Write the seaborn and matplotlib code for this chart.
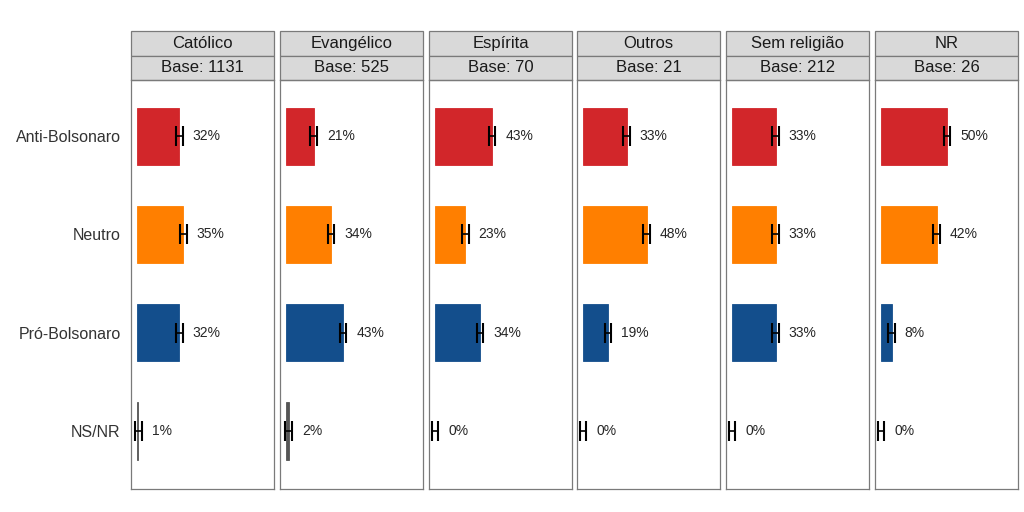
#Imports
import pandas as pd
import matplotlib.pyplot as plt
import seaborn as sns
from matplotlib.patches import Rectangle

#Data
respostas = ["Anti-Bolsonaro", "Neutro", "Pró-Bolsonaro", "NS/NR"]
religioes = ["Católico", "Evangélico", "Espírita", "Outros", "Sem religião", "NR"]
bases = [1131, 525, 70, 21, 212, 26]
catolico = [32, 35, 32, 1]
evangelico = [21, 34, 43, 2]
espirita = [43, 23, 34, 0]
outros = [33, 48, 19, 0]
sem_religiao = [33, 33, 33, 0]
nr = [50, 42, 8, 0]
erro = 2.5

valores = [catolico, evangelico, espirita, outros, sem_religiao, nr]
linhas = []
for rel, vals in zip(religioes, valores):
    for resp, v in zip(respostas, vals):
        linhas.append({"religiao": rel, "resposta": resp, "pct": v})
df = pd.DataFrame(linhas)

cores = {
    "Anti-Bolsonaro": "#d2262a",
    "Neutro": "#ff7f00",
    "Pró-Bolsonaro": "#134e8c",
    "NS/NR": "#555555",
}

sns.set_style("white")
plt.rcParams["font.family"] = ["Liberation Sans", "DejaVu Sans"]

fig = plt.figure(figsize=(10.24, 5.12), dpi=100)
lefts = [131, 280, 429, 577, 726, 875]
W, H = 1024, 512
pan_w = 143
pan_top, pan_bot = 80, 489
strip_h = 24.5

for k, (rel, base) in enumerate(zip(religioes, bases)):
    ax = fig.add_axes([
        lefts[k] / W,
        1 - pan_bot / H,
        pan_w / W,
        (pan_bot - pan_top) / H
    ])
    sub = df[df["religiao"] == rel]
    sns.barplot(
        data=sub, x="pct", y="resposta", hue="resposta",
        order=respostas, hue_order=respostas, palette=cores,
        saturation=1, width=0.58, legend=False, ax=ax, errorbar=None
    )
    # thin outline so the 1-2% bars stay visible
    for p in ax.patches:
        if p.get_width() > 0:
            p.set_edgecolor(p.get_facecolor())
            p.set_linewidth(0.6)
    ax.errorbar(
        sub["pct"], range(len(respostas)), xerr=erro,
        fmt="none", ecolor="black", elinewidth=1.2,
        capsize=7.5, capthick=1.5
    )
    for i, v in enumerate(sub["pct"]):
        ax.text(v + 10, i, f"{v}%", va="center", ha="left", fontsize=10)
    ax.set_xlim(-4.5, 103.5)
    ax.set_ylim(3.59, -0.57)
    ax.set_xticks([])
    ax.set_xlabel("")
    ax.set_ylabel("")
    ax.tick_params(left=False, pad=4)
    if k == 0:
        ax.set_yticks(range(len(respostas)))
        ax.set_yticklabels(respostas, fontsize=11.5, color="#333333")
    else:
        ax.set_yticks([])
    for s in ax.spines.values():
        s.set_visible(True)
        s.set_color("#7a7a7a")
        s.set_linewidth(0.9)
    # Strips
    frac = strip_h / (pan_bot - pan_top)
    for j, txt in enumerate([rel, f"Base: {base}"]):
        y0 = 1 + frac * (1 - j)
        ax.add_patch(Rectangle(
            (0, y0), 1, frac, transform=ax.transAxes, clip_on=False,
            facecolor="#d9d9d9", edgecolor="#7a7a7a", linewidth=0.9
        ))
        ax.text(0.5, y0 + frac / 2, txt, transform=ax.transAxes,
                ha="center", va="center", fontsize=12, color="#1a1a1a")

plt.savefig("out.png", dpi=100)
